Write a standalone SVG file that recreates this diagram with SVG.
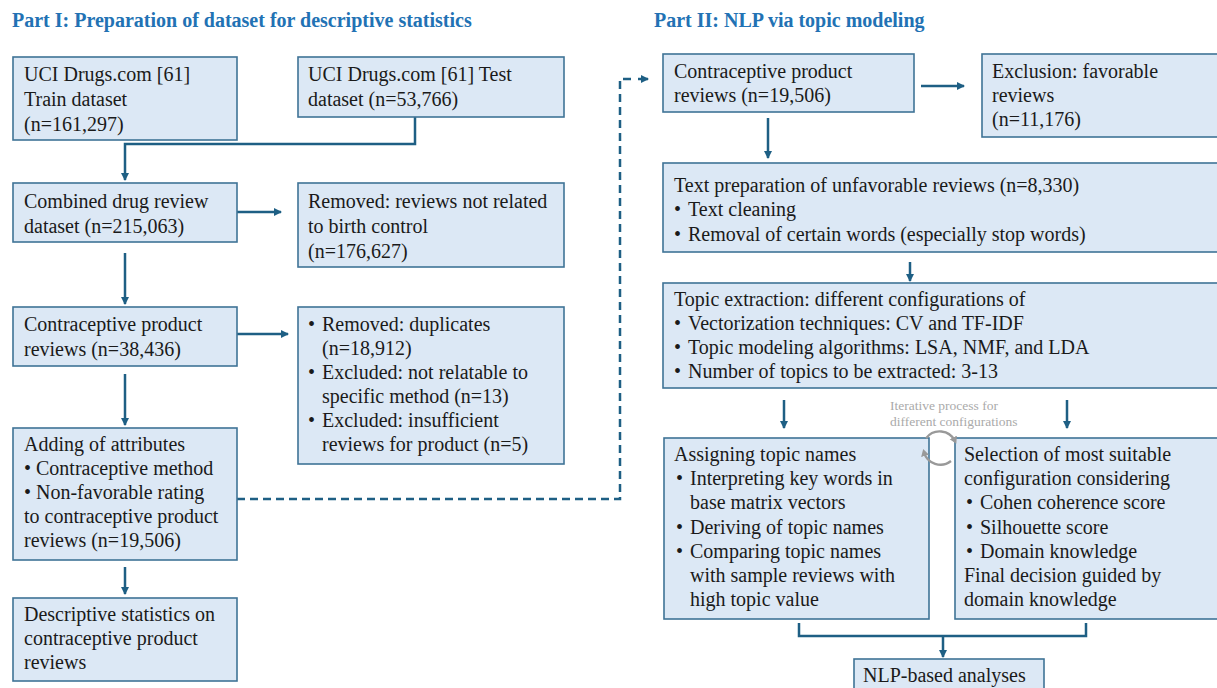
<svg xmlns="http://www.w3.org/2000/svg" width="1217" height="688" viewBox="0 0 1217 688">
<style>
.box{fill:#dce8f5;stroke:#3f7396;stroke-width:1.6}
.t{font-family:"Liberation Serif","Times New Roman",serif;font-size:20px;fill:#1a1a1a}
.h{font-family:"Liberation Serif","Times New Roman",serif;font-size:20px;font-weight:bold;fill:#2272b4}
.c{stroke:#1e5f84;stroke-width:2.5;fill:none}
.d{stroke:#1e5f84;stroke-width:2.5;fill:none;stroke-dasharray:8 5}
.it{font-family:"Liberation Serif","Times New Roman",serif;font-size:13.5px;fill:#aaaaaa}
.ic{stroke:#999999;stroke-width:2.4;fill:none}
</style>
<defs>
<marker id="ah" markerWidth="10" markerHeight="10" refX="7" refY="4" orient="auto" markerUnits="userSpaceOnUse">
<path d="M0,0 L8,4 L0,8 Z" fill="#1e5f84"/>
</marker>
<marker id="gh" markerWidth="10" markerHeight="10" refX="4" refY="4" orient="auto" markerUnits="userSpaceOnUse">
<path d="M0,0 L7,4 L0,8 Z" fill="#999999"/>
</marker>
</defs>
<rect width="1217" height="688" fill="#ffffff"/>

<g id="titles">
<text class="h" x="12" y="27">Part I: Preparation of dataset for descriptive statistics</text>
<text class="h" x="654" y="27">Part II: NLP via topic modeling</text>
</g>

<g id="connectors">
<polyline class="c" points="415,117 415,144 125,144 125,180" marker-end="url(#ah)"/>
<line class="c" x1="237" y1="212" x2="281" y2="212" marker-end="url(#ah)"/>
<line class="c" x1="125" y1="253" x2="125" y2="304" marker-end="url(#ah)"/>
<line class="c" x1="237" y1="334" x2="288" y2="334" marker-end="url(#ah)"/>
<line class="c" x1="125" y1="374" x2="125" y2="425" marker-end="url(#ah)"/>
<line class="c" x1="125" y1="567" x2="125" y2="594" marker-end="url(#ah)"/>
<polyline class="d" points="237,499 620,499 620,79 636,79"/>
<line class="c" x1="638" y1="79" x2="648" y2="79" marker-end="url(#ah)"/>
<line class="c" x1="921" y1="86" x2="964" y2="86" marker-end="url(#ah)"/>
<line class="c" x1="768" y1="118" x2="768" y2="158" marker-end="url(#ah)"/>
<line class="c" x1="910" y1="262" x2="910" y2="281" marker-end="url(#ah)"/>
<line class="c" x1="784" y1="400" x2="784" y2="428" marker-end="url(#ah)"/>
<line class="c" x1="1067" y1="400" x2="1067" y2="428" marker-end="url(#ah)"/>
<polyline class="c" points="799,623 799,636 1086,636 1086,623"/>
<line class="c" x1="943" y1="636" x2="943" y2="657" marker-end="url(#ah)"/>
</g>

<g id="n1"><rect class="box" x="13" y="57" width="224" height="83"/>
<text class="t" x="24" y="81">UCI Drugs.com [61]<tspan x="24" y="106">Train dataset</tspan><tspan x="24" y="131">(n=161,297)</tspan></text></g>

<g id="n2"><rect class="box" x="298" y="57" width="266" height="60"/>
<text class="t" x="308" y="81">UCI Drugs.com [61] Test<tspan x="308" y="106">dataset (n=53,766)</tspan></text></g>

<g id="n3"><rect class="box" x="13" y="183" width="224" height="59"/>
<text class="t" x="24" y="208">Combined drug review<tspan x="24" y="233">dataset (n=215,063)</tspan></text></g>

<g id="n4"><rect class="box" x="298" y="183" width="266" height="84"/>
<text class="t" x="308" y="208">Removed: reviews not related<tspan x="308" y="233">to birth control</tspan><tspan x="308" y="258">(n=176,627)</tspan></text></g>

<g id="n5"><rect class="box" x="13" y="307" width="224" height="59"/>
<text class="t" x="24" y="331">Contraceptive product<tspan x="24" y="356">reviews (n=38,436)</tspan></text></g>

<g id="n6"><rect class="box" x="298" y="307" width="266" height="157"/>
<text class="t" x="308" y="331">•<tspan x="308" y="379">•</tspan><tspan x="308" y="427">•</tspan></text>
<text class="t" x="322" y="331">Removed: duplicates<tspan x="322" y="355">(n=18,912)</tspan><tspan x="322" y="379">Excluded: not relatable to</tspan><tspan x="322" y="403">specific method (n=13)</tspan><tspan x="322" y="427">Excluded: insufficient</tspan><tspan x="322" y="451">reviews for product (n=5)</tspan></text></g>

<g id="n7"><rect class="box" x="13" y="428" width="224" height="132"/>
<text class="t" x="24" y="451">Adding of attributes<tspan x="24" y="475">• Contraceptive method</tspan><tspan x="24" y="499">• Non-favorable rating</tspan><tspan x="24" y="523">to contraceptive product</tspan><tspan x="24" y="547">reviews (n=19,506)</tspan></text></g>

<g id="n8"><rect class="box" x="13" y="598" width="224" height="83"/>
<text class="t" x="24" y="621">Descriptive statistics on<tspan x="24" y="645">contraceptive product</tspan><tspan x="24" y="669">reviews</tspan></text></g>

<g id="r1"><rect class="box" x="663" y="54" width="251" height="58"/>
<text class="t" x="674" y="78">Contraceptive product<tspan x="674" y="102">reviews (n=19,506)</tspan></text></g>

<g id="r2"><rect class="box" x="982" y="54" width="240" height="83"/>
<text class="t" x="992" y="78">Exclusion: favorable<tspan x="992" y="102">reviews</tspan><tspan x="992" y="126">(n=11,176)</tspan></text></g>

<g id="r3"><rect class="box" x="663" y="163" width="560" height="89"/>
<text class="t" x="674" y="192">Text preparation of unfavorable reviews (n=8,330)</text>
<text class="t" x="674" y="216">•<tspan x="674" y="241">•</tspan></text>
<text class="t" x="688" y="216">Text cleaning<tspan x="688" y="241">Removal of certain words (especially stop words)</tspan></text></g>

<g id="r4"><rect class="box" x="663" y="283" width="560" height="105"/>
<text class="t" x="674" y="306">Topic extraction: different configurations of</text>
<text class="t" x="674" y="330">•<tspan x="674" y="354">•</tspan><tspan x="674" y="378">•</tspan></text>
<text class="t" x="688" y="330">Vectorization techniques: CV and TF-IDF<tspan x="688" y="354">Topic modeling algorithms: LSA, NMF, and LDA</tspan><tspan x="688" y="378">Number of topics to be extracted: 3-13</tspan></text></g>

<g id="r5"><rect class="box" x="664" y="438" width="265" height="181"/>
<text class="t" x="674" y="461">Assigning topic names</text>
<text class="t" x="676" y="485">•<tspan x="676" y="534">•</tspan><tspan x="676" y="558">•</tspan></text>
<text class="t" x="690" y="485">Interpreting key words in<tspan x="690" y="509">base matrix vectors</tspan><tspan x="690" y="534">Deriving of topic names</tspan><tspan x="690" y="558">Comparing topic names</tspan><tspan x="690" y="582">with sample reviews with</tspan><tspan x="690" y="606">high topic value</tspan></text></g>

<g id="r6"><rect class="box" x="955" y="438" width="268" height="181"/>
<text class="t" x="964" y="461">Selection of most suitable<tspan x="964" y="485">configuration considering</tspan></text>
<text class="t" x="966" y="509">•<tspan x="966" y="534">•</tspan><tspan x="966" y="558">•</tspan></text>
<text class="t" x="980" y="509">Cohen coherence score<tspan x="980" y="534">Silhouette score</tspan><tspan x="980" y="558">Domain knowledge</tspan></text>
<text class="t" x="964" y="582">Final decision guided by<tspan x="964" y="606">domain knowledge</tspan></text></g>

<g id="iter">
<text class="it" x="890" y="410">Iterative process for<tspan x="890" y="426">different configurations</tspan></text>
<path class="ic" d="M926.1,438.2 A17,17 0 0 1 955,441" marker-end="url(#gh)"/>
<path class="ic" d="M951,461 A17,17 0 0 1 924,452" marker-end="url(#gh)"/>
</g>

<g id="r7"><rect class="box" x="854" y="659" width="190" height="40"/>
<text class="t" x="863" y="682">NLP-based analyses</text></g>
</svg>
